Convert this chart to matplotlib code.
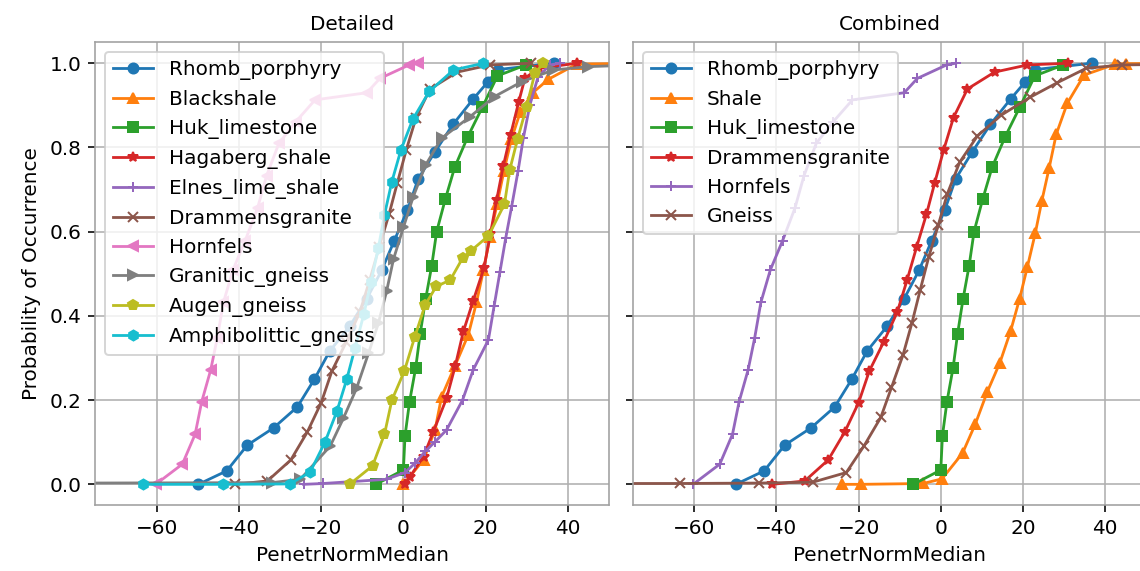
import matplotlib
matplotlib.use("Agg")
import matplotlib.pyplot as plt

# cumulative occurrence curves: x = PenetrNormMedian, p = probability of occurrence
rhomb_x = [-49.9, -43.0, -38.0, -31.6, -25.8, -21.7, -17.9, -13.1, -8.9, -5.3, -2.2, 1.0,
           3.6, 7.7, 12.1, 17.0, 20.5, 23.0, 36.7]
rhomb_p = [0.0, 0.032, 0.093, 0.134, 0.184, 0.249, 0.317, 0.375, 0.441, 0.508, 0.579, 0.652,
           0.725, 0.790, 0.855, 0.915, 0.955, 0.985, 1.0]

blackshale_x = [0.0, 4.9, 7.7, 9.3, 12.5, 15.8, 17.8, 19.5, 21.1, 22.8, 24.5, 26.3, 28.5,
                31.5, 35.3, 42.2, 60.0]
blackshale_p = [0.0, 0.058, 0.129, 0.208, 0.28, 0.355, 0.432, 0.509, 0.588, 0.665, 0.745,
                0.82, 0.885, 0.93, 0.962, 0.998, 1.0]

huk_x = [-6.7, 0.0, 0.4, 1.5, 3.0, 4.1, 5.4, 6.9, 8.1, 10.2, 12.5, 15.7, 19.2, 22.9, 29.8]
huk_p = [0.0, 0.034, 0.115, 0.196, 0.277, 0.358, 0.439, 0.519, 0.600, 0.677, 0.753, 0.826,
         0.895, 0.970, 0.996]

hagaberg_x = [0.4, 1.6, 4.9, 7.3, 10.5, 12.6, 14.6, 17.0, 19.6, 21.2, 22.7, 24.3, 26.1, 28.1,
              29.6, 33.0, 42.2]
hagaberg_p = [0.0, 0.018, 0.066, 0.125, 0.204, 0.28, 0.363, 0.436, 0.513, 0.595, 0.675, 0.755,
              0.83, 0.909, 0.965, 0.988, 1.0]

elnes_x = [-24.3, -19.5, -4.1, 0.4, 2.8, 5.3, 7.7, 10.5, 14.4, 17.0, 20.7, 22.1, 23.5, 24.9,
           26.4, 27.9, 29.2, 30.8, 32.8, 35.7, 38.1]
elnes_p = [0.0, 0.002, 0.012, 0.028, 0.05, 0.078, 0.101, 0.129, 0.2, 0.272, 0.343, 0.424, 0.504,
           0.584, 0.662, 0.743, 0.822, 0.901, 0.968, 0.996, 1.0]

dgranite_x = [-41.1, -33.1, -27.4, -23.4, -20.0, -17.4, -13.9, -10.6, -8.2, -5.9, -3.5, -1.5,
              0.7, 3.1, 6.5, 13.1, 21.1, 31.0]
dgranite_p = [0.0, 0.008, 0.058, 0.124, 0.194, 0.269, 0.338, 0.409, 0.485, 0.563, 0.641, 0.715,
              0.794, 0.871, 0.939, 0.979, 0.996, 1.0]

hornfels_x = [-60.3, -53.8, -50.7, -49.1, -46.9, -45.3, -43.8, -41.5, -38.5, -35.5, -33.3,
              -30.3, -26.2, -21.5, -8.9, -5.7, 1.4, 3.6]
hornfels_p = [0.0, 0.048, 0.119, 0.196, 0.272, 0.348, 0.432, 0.509, 0.579, 0.656, 0.733,
              0.810, 0.861, 0.913, 0.930, 0.964, 0.996, 1.0]

granittic_x = [-80.0, -32.0, -25.1, -17.8, -14.6, -11.4, -8.5, -6.1, -4.1, -2.4, 0.0, 2.4, 5.4,
               9.3, 16.1, 22.2, 28.8, 36.5, 45.0, 60.0]
granittic_p = [0.003, 0.004, 0.012, 0.091, 0.157, 0.228, 0.311, 0.382, 0.458, 0.535, 0.61,
               0.683, 0.758, 0.822, 0.872, 0.921, 0.956, 0.984, 0.992, 0.997]

augen_x = [-13.1, -7.5, -4.6, -2.8, 0.2, 2.8, 5.3, 8.0, 11.4, 14.4, 16.5, 20.7, 24.6, 25.9,
           27.8, 30.0, 32.0, 34.1]
augen_p = [0.0, 0.044, 0.119, 0.2, 0.268, 0.351, 0.426, 0.47, 0.485, 0.537, 0.555, 0.59, 0.665,
           0.747, 0.82, 0.897, 0.976, 1.0]

amphib_x = [-63.4, -44.0, -27.6, -22.7, -19.1, -16.2, -13.8, -11.8, -9.6, -7.9, -6.1, -4.6,
            -2.8, -0.6, 2.3, 6.3, 12.2, 19.5]
amphib_p = [0.0, 0.0, 0.001, 0.029, 0.100, 0.173, 0.249, 0.323, 0.405, 0.480, 0.561, 0.640,
            0.719, 0.794, 0.867, 0.933, 0.984, 1.0]

shale_x = [-24.1, -19.5, -4.3, 0.3, 5.3, 8.4, 11.3, 14.4, 17.0, 19.2, 21.1, 23.0, 24.6, 26.4,
           28.1, 30.8, 34.9, 42.5, 45.2, 60.0]
shale_p = [0.0, 0.0, 0.002, 0.013, 0.074, 0.143, 0.219, 0.289, 0.364, 0.441, 0.517, 0.596,
           0.673, 0.752, 0.831, 0.905, 0.972, 0.998, 0.999, 1.0]

gneiss_x = [-80.0, -63.5, -44.2, -31.2, -23.0, -18.7, -14.6, -12.0, -9.2, -7.0, -5.0, -2.9,
            -0.6, 1.6, 4.6, 8.9, 14.6, 21.7, 28.4, 35.4, 44.0, 60.0]
gneiss_p = [0.002, 0.002, 0.003, 0.005, 0.028, 0.091, 0.159, 0.230, 0.307, 0.384, 0.462, 0.541,
            0.616, 0.690, 0.765, 0.827, 0.876, 0.919, 0.954, 0.988, 0.996, 0.998]

detailed = [
    ("Rhomb_porphyry", rhomb_x, rhomb_p, "o"),
    ("Blackshale", blackshale_x, blackshale_p, "^"),
    ("Huk_limestone", huk_x, huk_p, "s"),
    ("Hagaberg_shale", hagaberg_x, hagaberg_p, "*"),
    ("Elnes_lime_shale", elnes_x, elnes_p, "+"),
    ("Drammensgranite", dgranite_x, dgranite_p, "x"),
    ("Hornfels", hornfels_x, hornfels_p, "<"),
    ("Granittic_gneiss", granittic_x, granittic_p, ">"),
    ("Augen_gneiss", augen_x, augen_p, "p"),
    ("Amphibolittic_gneiss", amphib_x, amphib_p, "h"),
]
combined = [
    ("Rhomb_porphyry", rhomb_x, rhomb_p, "o"),
    ("Shale", shale_x, shale_p, "^"),
    ("Huk_limestone", huk_x, huk_p, "s"),
    ("Drammensgranite", dgranite_x, dgranite_p, "*"),
    ("Hornfels", hornfels_x, hornfels_p, "+"),
    ("Gneiss", gneiss_x, gneiss_p, "x"),
]

fig = plt.figure(figsize=(1140 / 144, 571 / 144), dpi=144)
ax1 = fig.add_axes([0.0836, 0.1149, 0.4504, 0.8112])
ax2 = fig.add_axes([0.555, 0.1149, 0.4504, 0.8112], sharex=ax1, sharey=ax1)

for ax, groups, title in [(ax1, detailed, "Detailed"), (ax2, combined, "Combined")]:
    for name, xs, ps, mk in groups:
        ax.plot(xs, ps, marker=mk, markersize=5, linewidth=1.4, label=name)
    ax.grid(True)
    ax.set_title(title, fontsize=10)
    ax.set_xlabel("PenetrNormMedian")
    ax.legend(loc="upper left")
    for sp in ax.spines.values():
        sp.set_edgecolor("#a0a0a0")

ax1.set_xlim(-75, 50)
ax1.set_ylim(-0.05, 1.05)
ax1.set_ylabel("Probability of Occurrence")
plt.setp(ax2.get_yticklabels(), visible=False)

fig.savefig("out.png", dpi=144)
